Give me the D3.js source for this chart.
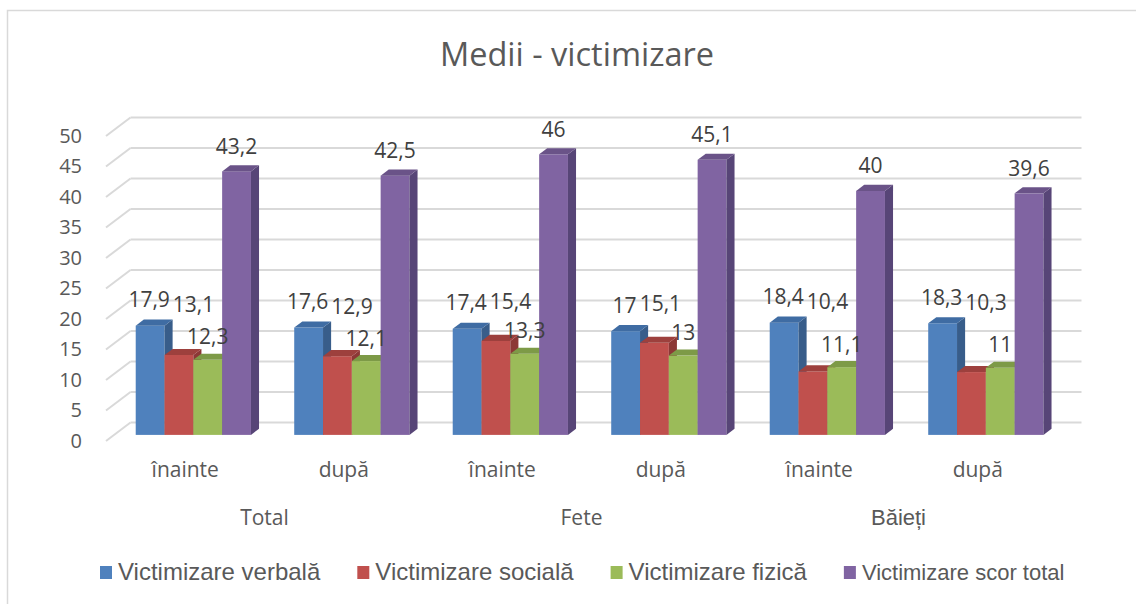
<!DOCTYPE html>
<html>
<head>
<meta charset="utf-8">
<script src="https://cdn.jsdelivr.net/npm/d3@7"></script>
<style>
  body { margin: 0; background: #fff; }
  svg { display: block; }
</style>
</head>
<body>
<svg width="1136" height="604"></svg>
<script>
// values
var groups = ["Total", "Fete", "Băieți"];
var periods = ["înainte", "după"];
var series = ["Victimizare verbală", "Victimizare socială", "Victimizare fizică", "Victimizare scor total"];
var verbala = [17.9, 17.6, 17.4, 17, 18.4, 18.3];
var sociala = [13.1, 12.9, 15.4, 15.1, 10.4, 10.3];
var fizica = [12.3, 12.1, 13.3, 13, 11.1, 11];
var scorTotal = [43.2, 42.5, 46, 45.1, 40, 39.6];
var yTicks = [0, 5, 10, 15, 20, 25, 30, 35, 40, 45, 50];

var colors = [
  {front: "#4f81bd", side: "#385d8a", top: "#3f6ca3"},
  {front: "#c0504d", side: "#8c3836", top: "#9d403d"},
  {front: "#9bbb59", side: "#71893f", top: "#7d9a47"},
  {front: "#8064a2", side: "#574577", top: "#6a5388"}
];

var svg = d3.select("svg");
var values = [verbala, sociala, fizica, scorTotal];
var cats = d3.range(groups.length * periods.length);
var catLabel = function(i) { return periods[i % periods.length]; };
var fmt = function(v) { return String(v).replace(".", ","); };

var depth = {dx: 24.5, dy: -18.5};    // floor depth of the 3D box
var barFront = 0.33, barBack = 0.66;   // bars sit in the middle of the depth

var y = d3.scaleLinear().domain([0, 50]).range([441, 136]);
var x = d3.scaleBand().domain(cats).range([106, 1057]).paddingInner(0);
var xs = d3.scaleBand().domain(d3.range(series.length)).range([0, x.bandwidth() * 0.727]);

var grid = "#d9d9d9";

// chart border
svg.append("path")
    .attr("d", "M7.5,604 V10.5 H1136")
    .attr("fill", "none")
    .attr("stroke", grid)
    .attr("stroke-width", 1.5);

// title
svg.append("text")
    .attr("x", 577)
    .attr("y", 66)
    .attr("text-anchor", "middle")
    .style("font-family", "'Open Sans'")
    .style("font-size", "32.5px")
    .style("fill", "#595959")
    .text("Medii - victimizare");

// gridlines: back wall + left wall diagonals
var x0 = x.range()[0], x1 = x.range()[1];
var gg = svg.append("g");
gg.selectAll(".back")
  .data(yTicks)
  .enter().append("line")
    .attr("x1", x0 + depth.dx).attr("x2", x1 + depth.dx)
    .attr("y1", function(d) { return y(d) + depth.dy; })
    .attr("y2", function(d) { return y(d) + depth.dy; })
    .attr("stroke", grid).attr("stroke-width", 2);
gg.selectAll(".side")
  .data(yTicks)
  .enter().append("line")
    .attr("x1", x0).attr("x2", x0 + depth.dx)
    .attr("y1", function(d) { return y(d); })
    .attr("y2", function(d) { return y(d) + depth.dy; })
    .attr("stroke", grid).attr("stroke-width", 2);

// y axis
var yAxis = svg.append("g")
    .attr("transform", "translate(" + (x0 - 18) + ",0)")
    .call(d3.axisLeft(y).tickValues(yTicks).tickSize(0).tickPadding(6));
yAxis.select(".domain").remove();
yAxis.selectAll("text")
    .style("font-family", "'Open Sans'")
    .style("font-size", "20px")
    .style("fill", "#595959");

// x axis (periods)
var xAxis = svg.append("g")
    .attr("transform", "translate(0,462)")
    .call(d3.axisBottom(x).tickFormat(catLabel).tickSize(0).tickPadding(0));
xAxis.select(".domain").remove();
xAxis.selectAll("text")
    .style("font-family", "'Open Sans'")
    .style("font-size", "21px")
    .style("fill", "#595959");

// group labels
svg.selectAll(".grp")
  .data(groups)
  .enter().append("text")
    .attr("x", function(d, i) { return x(i * 2) + x.bandwidth(); })
    .attr("y", 525)
    .attr("text-anchor", "middle")
    .style("font-family", function(d, i) { return i == 2 ? "'Liberation Sans'" : "'Open Sans'"; })
    .style("font-size", function(d, i) { return i == 2 ? "22px" : "21px"; })
    .style("fill", "#595959")
    .text(function(d) { return d; });

// bars
var fx = depth.dx * barFront, fy = depth.dy * barFront;
var bx = depth.dx * (barBack - barFront), by = depth.dy * (barBack - barFront);
var bw = xs.bandwidth();

var bars = [];
cats.forEach(function(c) {
  var gx = x(c) + (x.bandwidth() - xs.range()[1]) / 2 + fx;
  series.forEach(function(s, k) {
    bars.push({cat: c, k: k, v: values[k][c], left: gx + xs(k)});
  });
});

var barG = svg.append("g");
bars.forEach(function(b) {
  var l = b.left, r = l + bw;
  var t = y(b.v) + fy, bot = y(0) + fy;
  var col = colors[b.k];
  var g = barG.append("g");
  g.append("rect").attr("x", l).attr("y", t).attr("width", bw).attr("height", bot - t)
      .attr("fill", col.front);
  g.append("path")
      .attr("d", "M" + r + "," + t + "L" + (r + bx) + "," + (t + by) + "L" + (r + bx) + "," + (bot + by) + "L" + r + "," + bot + "Z")
      .attr("fill", col.side);
  g.append("path")
      .attr("d", "M" + l + "," + t + "L" + (l + bx) + "," + (t + by) + "L" + (r + bx) + "," + (t + by) + "L" + r + "," + t + "Z")
      .attr("fill", col.top);
});

// data labels (spread out a little like the original)
var labelG = svg.append("g")
    .style("font-family", "'Open Sans'")
    .style("font-size", "21px")
    .style("fill", "#404040");

cats.forEach(function(c) {
  var gb = bars.filter(function(b) { return b.cat === c; });
  var mid = function(b) { return b.left + bw / 2; };
  var top = function(b) { return y(b.v) + fy; };
  var pos = [];
  pos[0] = {x: mid(gb[0]) - 1, y: top(gb[0]) - 26};
  pos[2] = {x: mid(gb[2]), y: top(gb[2]) - 23};
  pos[3] = {x: mid(gb[3]), y: top(gb[3]) - 25};
  pos[1] = {x: mid(gb[1]), y: Math.min(top(gb[1]) - 25, pos[0].y + 5, pos[2].y - 29)};
  var texts = gb.map(function(b, k) {
    return labelG.append("text")
        .attr("text-anchor", "middle")
        .attr("x", pos[k].x)
        .attr("y", pos[k].y + 7.5)
        .text(fmt(b.v));
  });
  var w0 = texts[0].node().getComputedTextLength();
  var w1 = texts[1].node().getComputedTextLength();
  var minX = pos[0].x + w0 / 2 + w1 / 2 + 3;
  if (pos[1].x < minX) texts[1].attr("x", minX);
});

// legend
var lg = svg.append("g").attr("transform", "translate(100,0)");
var lx = 0;
series.forEach(function(s, k) {
  lg.append("rect")
      .attr("x", lx).attr("y", 566)
      .attr("width", 12).attr("height", 13)
      .attr("fill", colors[k].front);
  var t = lg.append("text")
      .attr("x", lx + 18).attr("y", 580)
      .style("font-family", "'Liberation Sans', Arial")
      .style("font-size", k == 3 ? "22px" : "24px")
      .style("fill", "#595959")
      .text(s);
  lx += 18 + t.node().getComputedTextLength() + 37;
});
</script>
</body>
</html>
